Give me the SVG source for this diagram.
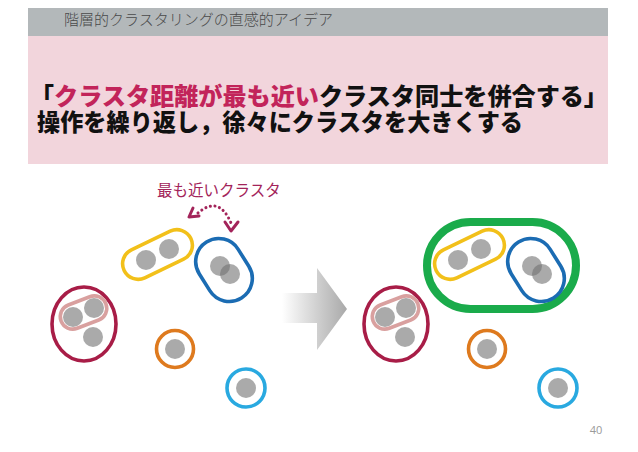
<svg xmlns="http://www.w3.org/2000/svg" width="638" height="452" viewBox="0 0 638 452">
<defs>
<linearGradient id="ag" gradientUnits="userSpaceOnUse" x1="282" y1="0" x2="347" y2="0">
<stop offset="0" stop-color="#ffffff"/>
<stop offset="0.55" stop-color="#cfcfcf"/>
<stop offset="1" stop-color="#a9a9a9"/>
</linearGradient>
<style>
.dot{fill:#717171;fill-opacity:0.6}
.ring{fill:none;stroke-width:3.6}
.jp{font-family:"Noto Sans CJK JP","Noto Sans",sans-serif}
.ttl{font-size:15px;fill:#4a4a4a;font-weight:300}
.main{font-size:23.5px;font-weight:900;fill:#111}
.hl{fill:#c2245a}
.lbl{font-size:15.5px;fill:#a3245a}
.arr{fill:none;stroke:#a3245a;stroke-width:3;stroke-linecap:round;stroke-linejoin:round}
</style>
</defs>
<rect x="0" y="0" width="638" height="452" fill="#ffffff"/>
<rect x="28" y="8" width="580" height="28" fill="#b3b8ba"/>
<rect x="28" y="36" width="580" height="128" fill="#f2d5dc"/>
<text class="jp ttl" x="64" y="25">階層的クラスタリングの直感的アイデア</text>
<text class="jp main" x="30" y="105" textLength="24" lengthAdjust="spacingAndGlyphs">「</text>
<text class="jp main hl" x="54" y="105" textLength="265" lengthAdjust="spacingAndGlyphs">クラスタ距離が最も近い</text>
<text class="jp main" x="319" y="105" textLength="289" lengthAdjust="spacingAndGlyphs">クラスタ同士を併合する」</text>
<text class="jp main" x="37" y="131" textLength="486" lengthAdjust="spacingAndGlyphs">操作を繰り返し，徐々にクラスタを大きくする</text>

<g id="label-nearest">
<text class="jp lbl" x="157" y="196">最も近いクラスタ</text>
</g>

<g id="connectors">
<path class="arr" d="M198,213 Q219,195 231,223" stroke-dasharray="0.1 4.6"/>
<polyline class="arr" points="193,208 189,217 199,216"/>
<polyline class="arr" points="225,222 231,231 238,222"/>
<polygon points="282,293 317,293 317,268 347,309 317,350 317,323 282,323" fill="url(#ag)"/>
</g>

<g id="left-crimson">
<ellipse class="ring" cx="84" cy="324" rx="32" ry="37" stroke="#a81d47" stroke-width="4"/>
<circle class="dot" cx="73" cy="317" r="10"/>
<circle class="dot" cx="94" cy="308" r="10"/>
<circle class="dot" cx="93" cy="337" r="10"/>
<rect class="ring" transform="translate(83.5,312.5) rotate(-21)" x="-24" y="-12.5" width="48" height="25" rx="12.5" stroke="#d9a09f" stroke-width="4"/>
</g>
<g id="left-yellow">
<circle class="dot" cx="146" cy="260" r="10"/>
<circle class="dot" cx="169" cy="249" r="10"/>
<rect class="ring" transform="translate(157.5,254.5) rotate(-25.6)" x="-37" y="-15.5" width="74" height="31" rx="15.5" stroke="#f2c01a"/>
</g>
<g id="left-blue">
<circle class="dot" cx="220" cy="266" r="10"/>
<circle class="dot" cx="230" cy="274" r="10"/>
<rect class="ring" transform="translate(224,270) rotate(58)" x="-33" y="-23" width="66" height="46" rx="23" stroke="#1b6cb3"/>
</g>
<g id="left-orange">
<circle class="dot" cx="175" cy="349" r="10"/>
<circle class="ring" cx="175" cy="349" r="18.5" stroke="#de7a1e"/>
</g>
<g id="left-cyan">
<circle class="dot" cx="246" cy="388" r="10"/>
<circle class="ring" cx="246" cy="388" r="19" stroke="#29a9e0"/>
</g>

<g id="right-green">
<rect x="427" y="222" width="149" height="87" rx="43.5" fill="none" stroke="#1aab4b" stroke-width="8"/>
</g>
<g id="right-crimson" transform="translate(312,0)">
<ellipse class="ring" cx="84" cy="324" rx="32" ry="37" stroke="#a81d47" stroke-width="4"/>
<circle class="dot" cx="73" cy="317" r="10"/>
<circle class="dot" cx="94" cy="308" r="10"/>
<circle class="dot" cx="93" cy="337" r="10"/>
<rect class="ring" transform="translate(83.5,312.5) rotate(-21)" x="-24" y="-12.5" width="48" height="25" rx="12.5" stroke="#d9a09f" stroke-width="4"/>
</g>
<g id="right-yellow" transform="translate(312,0)">
<circle class="dot" cx="146" cy="260" r="10"/>
<circle class="dot" cx="169" cy="249" r="10"/>
<rect class="ring" transform="translate(157.5,254.5) rotate(-25.6)" x="-37" y="-15.5" width="74" height="31" rx="15.5" stroke="#f2c01a"/>
</g>
<g id="right-blue" transform="translate(312,0)">
<circle class="dot" cx="220" cy="266" r="10"/>
<circle class="dot" cx="230" cy="274" r="10"/>
<rect class="ring" transform="translate(224,270) rotate(58)" x="-33" y="-23" width="66" height="46" rx="23" stroke="#1b6cb3"/>
</g>
<g id="right-orange" transform="translate(312,0)">
<circle class="dot" cx="175" cy="349" r="10"/>
<circle class="ring" cx="175" cy="349" r="18.5" stroke="#de7a1e"/>
</g>
<g id="right-cyan" transform="translate(312,0)">
<circle class="dot" cx="246" cy="388" r="10"/>
<circle class="ring" cx="246" cy="388" r="19" stroke="#29a9e0"/>
</g>

<text x="596" y="434" text-anchor="middle" font-family="Open Sans, Liberation Sans, sans-serif" font-size="11" fill="#9a9a9a">40</text>
</svg>
